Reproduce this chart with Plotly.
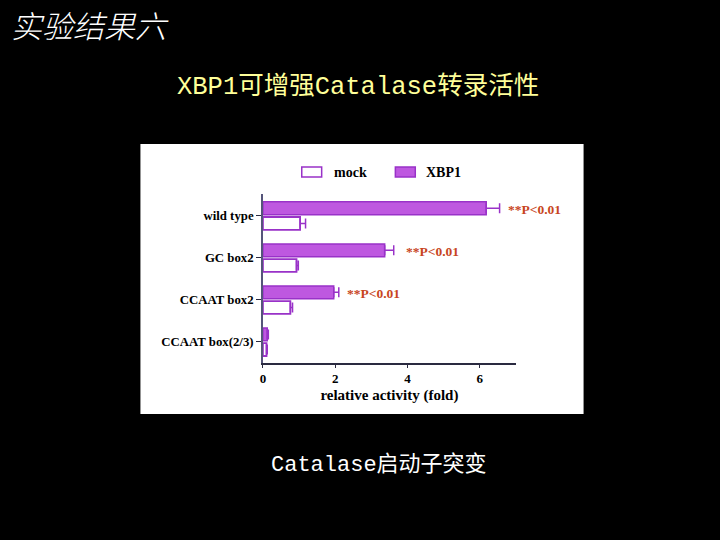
import plotly.graph_objects as go

# data
categories = ['wild type', 'GC box2', 'CCAAT box2', 'CCAAT box(2/3)']
xbp1 = [6.18, 3.37, 1.96, 0.12]
xbp1_err = [0.37, 0.25, 0.14, 0.03]
mock = [1.03, 0.93, 0.76, 0.1]
mock_err = [0.15, 0.05, 0.06, 0.02]
sig_labels = ['**P<0.01', '**P<0.01', '**P<0.01', '']
sig_x = [6.72, 3.91, 2.26, None]
x_ticks = [0, 2, 4, 6]

purple_line = '#9932C8'
purple_fill = '#BE58E0'
serif = 'Liberation Serif, Times New Roman, serif'
W, H = 720, 540


def px_x(x):
    return x / W


def px_y(y):
    return 1 - y / H


fig = go.Figure()
# XBP1 first so it sits above mock inside each group (reversed y axis)
fig.add_trace(go.Bar(
    y=categories, x=xbp1, name='XBP1', orientation='h',
    marker=dict(color=purple_fill, line=dict(color=purple_line, width=1.5)),
    error_x=dict(type='data', array=xbp1_err, arrayminus=[0] * 4, symmetric=False,
                 color=purple_line, thickness=1.5, width=5),
))
fig.add_trace(go.Bar(
    y=categories, x=mock, name='mock', orientation='h',
    marker=dict(color='white', line=dict(color=purple_line, width=1.8)),
    error_x=dict(type='data', array=mock_err, arrayminus=[0] * 4, symmetric=False,
                 color=purple_line, thickness=1.5, width=5),
))

for cat, lab, sx in zip(categories, sig_labels, sig_x):
    if lab:
        fig.add_annotation(x=sx, y=cat, xref='x', yref='y', text=lab, showarrow=False,
                           xanchor='left', yanchor='middle', yshift=6,
                           font=dict(family=serif, size=13.5, weight='bold', color='#C8461E'))

# white panel behind the chart
fig.add_shape(type='rect', xref='paper', yref='paper',
              x0=px_x(138), x1=px_x(583), y0=px_y(414), y1=px_y(144),
              fillcolor='white', line_width=0, layer='below')

# legend drawn by hand (wide rectangular keys like the original)
legend_items = [('mock', 'white', 300, 330), ('XBP1', purple_fill, 394, 423)]
for name, fill, kx, tx in legend_items:
    fig.add_shape(type='rect', xref='paper', yref='paper',
                  x0=px_x(kx), x1=px_x(kx + 20), y0=px_y(177), y1=px_y(167),
                  fillcolor=fill, line=dict(color=purple_line, width=1.5))
    fig.add_annotation(x=px_x(tx), y=px_y(172), xref='paper', yref='paper', text=name,
                       showarrow=False, xanchor='left', yanchor='middle',
                       font=dict(family=serif, size=14, weight='bold', color='black'))

# slide texts
fig.add_annotation(x=px_x(6), y=px_y(25), xref='paper', yref='paper', text='实验结果六',
                   showarrow=False, xanchor='left', yanchor='middle',
                   font=dict(family='Noto Sans CJK SC', size=31, weight=300,
                             color='white', style='italic'))
fig.add_annotation(x=px_x(356), y=px_y(87), xref='paper', yref='paper',
                   text='XBP1可增强Catalase转录活性', showarrow=False,
                   xanchor='center', yanchor='middle',
                   font=dict(family='Liberation Mono, Noto Sans CJK SC', size=25.5, color='#FFFF99'))
fig.add_annotation(x=px_x(378), y=px_y(465), xref='paper', yref='paper',
                   text='Catalase启动子突变', showarrow=False,
                   xanchor='center', yanchor='middle',
                   font=dict(family='Liberation Mono, Noto Sans CJK SC', size=22, color='white'))

fig.update_layout(
    width=W, height=H,
    margin=dict(l=0, r=0, t=0, b=0),
    paper_bgcolor='black',
    plot_bgcolor='white',
    showlegend=False,
    barmode='group', bargap=0.28, bargroupgap=0.15,
    font=dict(family=serif, size=12, color='black'),
    xaxis=dict(domain=[px_x(261), px_x(515)], range=[0, 7], tickvals=x_ticks,
               showline=True, linecolor='#2A2A40', linewidth=1.5,
               ticks='outside', ticklen=3, tickcolor='#2A2A40', showgrid=False, zeroline=False,
               tickfont=dict(family=serif, size=13, weight='bold', color='black'),
               title=dict(text='relative activity (fold)', standoff=4,
                          font=dict(family=serif, size=15, weight='bold', color='black'))),
    yaxis=dict(domain=[px_y(363), px_y(194)], range=[3.5, -0.52],
               type='category', showline=True, linecolor='#55557A', linewidth=1.5,
               ticks='outside', ticklen=5, tickcolor='#2A2A40', showgrid=False,
               tickfont=dict(family=serif, size=12.8, weight='bold', color='black')),
)

fig.write_html("out.html", config={'displayModeBar': False},
               post_script="document.body.style.margin='0';document.body.style.background='black';")
